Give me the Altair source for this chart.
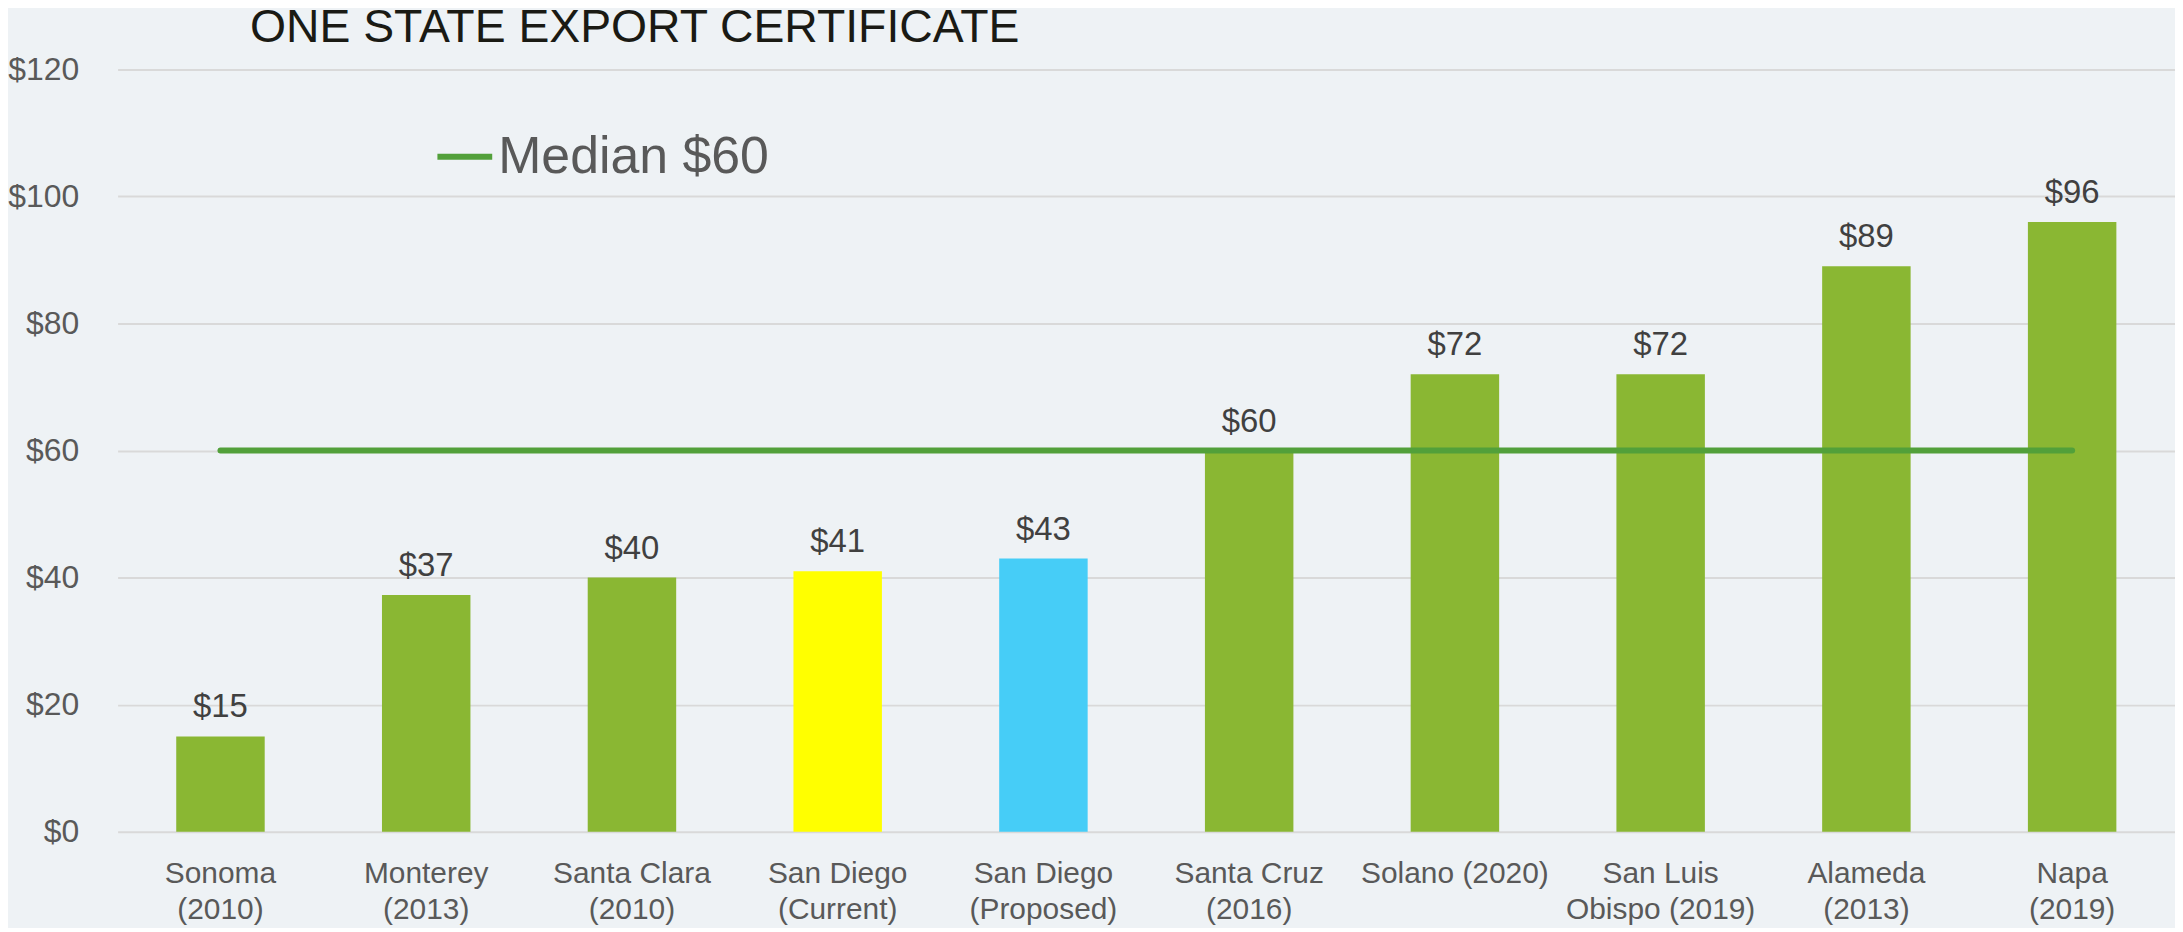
import altair as alt
import pandas as pd

categories = ["Sonoma\n(2010)", "Monterey\n(2013)", "Santa Clara\n(2010)", "San Diego\n(Current)",
              "San Diego\n(Proposed)", "Santa Cruz\n(2016)", "Solano (2020)", "San Luis\nObispo (2019)",
              "Alameda\n(2013)", "Napa\n(2019)"]
fees = [15, 37.25, 40, 41, 43, 60, 72, 72, 89, 96]
bar_colors = ["#8AB733", "#8AB733", "#8AB733", "#FFFF00", "#46CDF7",
              "#8AB733", "#8AB733", "#8AB733", "#8AB733", "#8AB733"]
median_value = 60
median_label = "Median $60"
y_ticks = [0, 20, 40, 60, 80, 100, 120]

df = pd.DataFrame({
    "category": categories,
    "fee": fees,
    "color": bar_colors,
    "median": [median_value] * len(categories),
    "series": [median_label] * len(categories),
})

FONT = "Liberation Sans"

x_enc = alt.X("category:N", sort=categories,
              scale=alt.Scale(paddingInner=0.57, paddingOuter=0.285),
              axis=alt.Axis(title=None, labelExpr="split(datum.label, '\\n')",
                            labelAngle=0, labelFontSize=30, labelColor="#595959",
                            labelFont=FONT, labelLineHeight=36, labelPadding=27,
                            labelLimit=0,
                            labelBaseline="top", ticks=False, domain=False, grid=False))

y_scale = alt.Scale(domain=[0, 120])

bars = alt.Chart(df).mark_bar().encode(
    x=x_enc,
    y=alt.Y("fee:Q", scale=y_scale,
            axis=alt.Axis(title=None, values=y_ticks, format="$.0f", labelFontSize=32,
                          labelColor="#595959", labelFont=FONT, labelPadding=39,
                          ticks=False, domain=False, grid=True, gridColor="#D9D9D9",
                          gridWidth=2)),
    color=alt.Color("color:N", scale=None),
)

labels = alt.Chart(df).mark_text(dy=-19, baseline="alphabetic", fontSize=33,
                                  color="#404040", font=FONT).encode(
    x=alt.X("category:N", sort=categories),
    y=alt.Y("fee:Q", scale=y_scale),
    text=alt.Text("fee:Q", format="$.0f"),
)

median_line = alt.Chart(df).mark_line(strokeWidth=6, strokeCap="round").encode(
    x=alt.X("category:N", sort=categories),
    y=alt.Y("median:Q", scale=y_scale),
    color=alt.Color("series:N", scale=alt.Scale(range=["#52A03A"]),
                    legend=alt.Legend(title=None, orient="none", legendX=318, legendY=57,
                                      symbolType="stroke", symbolSize=3025,
                                      symbolStrokeWidth=6, labelFontSize=52,
                                      labelColor="#595959", labelFont=FONT,
                                      labelLimit=0, labelOffset=3, padding=0)),
)

chart = alt.layer(bars, labels, median_line).resolve_scale(color="independent").properties(
    width=2065,
    height=765,
    background="#EEF2F5",
    padding={"left": 110, "top": 60, "right": 0, "bottom": 95},
    autosize=alt.AutoSizeParams(type="none"),
    title=alt.Title("ONE STATE EXPORT CERTIFICATE", anchor="start", dx=243, offset=2,
                    fontSize=46.5, font=FONT, fontWeight="normal", color="#1A1A14"),
).configure_view(stroke=None)

chart.save("out.html", embed_options={"renderer": "svg", "actions": False})
